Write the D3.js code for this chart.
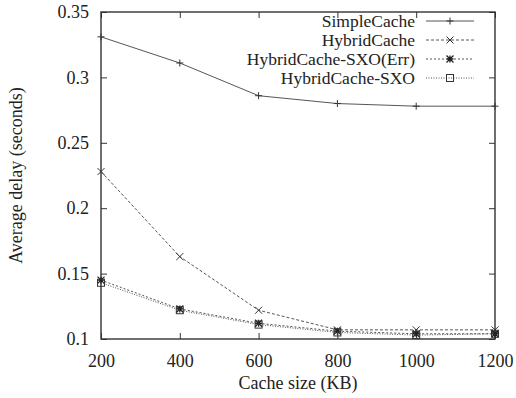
<!DOCTYPE html>
<html lang="en">
<head>
<meta charset="UTF-8">
<title>Average delay vs cache size</title>
<script src="https://d3js.org/d3.v7.min.js"></script>
<style>
    body { margin: 0; background: #fff; }
    svg text { font-family: 'Liberation Serif', 'Times New Roman', serif; fill: #222; }
</style>
</head>
<body>
<svg width="516" height="398"></svg>
<script>
    const cacheSizes = [200, 400, 600, 800, 1000, 1200];
    const simpleCache = [0.331, 0.311, 0.286, 0.280, 0.278, 0.278];
    const hybridCache = [0.228, 0.163, 0.122, 0.107, 0.107, 0.107];
    const hybridSxoErr = [0.145, 0.123, 0.112, 0.106, 0.104, 0.104];
    const hybridSxo = [0.143, 0.122, 0.111, 0.105, 0.103, 0.104];
    const yTicks = [0.1, 0.15, 0.2, 0.25, 0.3, 0.35];

    const series = [
        { name: "SimpleCache", values: simpleCache, dash: null, marker: "plus" },
        { name: "HybridCache", values: hybridCache, dash: "3,2", marker: "cross" },
        { name: "HybridCache-SXO(Err)", values: hybridSxoErr, dash: "2,2", marker: "star" },
        { name: "HybridCache-SXO", values: hybridSxo, dash: "1,1.5", marker: "square" }
    ];

    const svg = d3.select("svg");
    const plotLeft = 101, plotRight = 495, plotTop = 12, plotBottom = 339;
    const ink = "#333";

    const x = d3.scaleLinear().domain([200, 1200]).range([plotLeft, plotRight]);
    const y = d3.scaleLinear().domain([0.1, 0.35]).range([plotBottom, plotTop]);

    // ticks on all four sides, pointing inward
    svg.append("g").attr("transform", `translate(0,${plotBottom})`)
        .call(d3.axisBottom(x).tickValues(cacheSizes).tickSize(-6).tickPadding(15).tickFormat(d3.format("d")))
        .call(g => g.select(".domain").remove());
    svg.append("g").attr("transform", `translate(0,${plotTop})`)
        .call(d3.axisTop(x).tickValues(cacheSizes).tickSize(-6).tickFormat(""))
        .call(g => g.select(".domain").remove());
    svg.append("g").attr("transform", `translate(${plotLeft},0)`)
        .call(d3.axisLeft(y).tickValues(yTicks).tickSize(-6).tickPadding(12).tickFormat(d3.format("")))
        .call(g => g.select(".domain").remove());
    svg.append("g").attr("transform", `translate(${plotRight},0)`)
        .call(d3.axisRight(y).tickValues(yTicks).tickSize(-6).tickFormat(""))
        .call(g => g.select(".domain").remove());

    svg.selectAll("g").attr("font-family", null);
    svg.selectAll(".tick line").attr("stroke", ink).attr("stroke-width", 1);
    svg.selectAll(".tick text").attr("font-size", 18);

    // frame
    svg.append("rect")
        .attr("x", plotLeft).attr("y", plotTop)
        .attr("width", plotRight - plotLeft).attr("height", plotBottom - plotTop)
        .attr("fill", "none").attr("stroke", ink).attr("stroke-width", 1.4);

    function drawMarker(g, kind, cx, cy) {
        const s = 3.5;
        if (kind === "plus") {
            g.append("path").attr("d", `M${cx - s},${cy}H${cx + s}M${cx},${cy - s}V${cy + s}`)
                .attr("stroke", ink).attr("stroke-width", 1);
        } else if (kind === "cross") {
            g.append("path").attr("d", `M${cx - s},${cy - s}L${cx + s},${cy + s}M${cx - s},${cy + s}L${cx + s},${cy - s}`)
                .attr("stroke", ink).attr("stroke-width", 1);
        } else if (kind === "star") {
            g.append("path").attr("d", `M${cx - s},${cy}H${cx + s}M${cx},${cy - s}V${cy + s}M${cx - s},${cy - s}L${cx + s},${cy + s}M${cx - s},${cy + s}L${cx + s},${cy - s}`)
                .attr("stroke", "#222").attr("stroke-width", 1.3);
        } else {
            g.append("rect").attr("x", cx - s).attr("y", cy - s).attr("width", 2 * s).attr("height", 2 * s)
                .attr("fill", "none").attr("stroke", ink).attr("stroke-width", 1);
        }
    }

    const line = d3.line().x((d, i) => x(cacheSizes[i])).y(d => y(d));

    series.forEach(s => {
        const g = svg.append("g");
        g.append("path").datum(s.values)
            .attr("d", line)
            .attr("fill", "none")
            .attr("stroke", "#555")
            .attr("stroke-width", 1)
            .attr("stroke-dasharray", s.dash);
        s.values.forEach((v, i) => drawMarker(g, s.marker, x(cacheSizes[i]), y(v)));
    });

    // legend
    const legend = svg.append("g");
    series.forEach((s, i) => {
        const ly = 21 + i * 19;
        legend.append("text")
            .attr("x", 415).attr("y", ly + 6)
            .attr("text-anchor", "end")
            .attr("font-size", 17.5)
            .text(s.name);
        legend.append("line")
            .attr("x1", 426).attr("x2", 474).attr("y1", ly).attr("y2", ly)
            .attr("stroke", "#555").attr("stroke-width", 1)
            .attr("stroke-dasharray", s.dash);
        drawMarker(legend, s.marker, 450, ly);
    });

    // axis titles
    svg.append("text")
        .attr("x", (plotLeft + plotRight) / 2).attr("y", 389)
        .attr("text-anchor", "middle").attr("font-size", 18)
        .text("Cache size (KB)");
    svg.append("text")
        .attr("transform", `translate(22,${(plotTop + plotBottom) / 2}) rotate(-90)`)
        .attr("text-anchor", "middle").attr("font-size", 18)
        .text("Average delay (seconds)");
</script>
</body>
</html>
